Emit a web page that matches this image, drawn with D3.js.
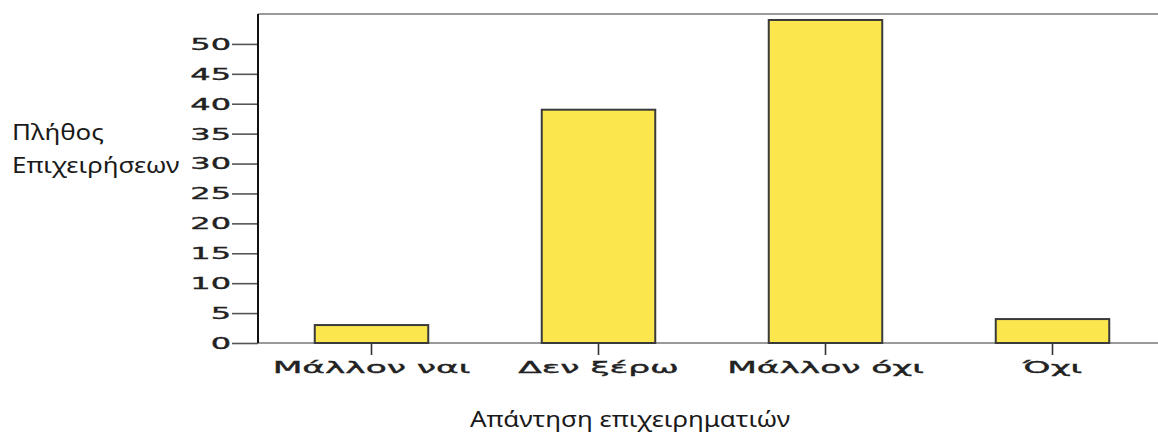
<!DOCTYPE html>
<html>
<head>
<meta charset="utf-8">
<script src="https://cdn.jsdelivr.net/npm/d3@7"></script>
<style>
  html, body { margin: 0; padding: 0; background: #fff; }
  svg { display: block; }
</style>
</head>
<body>
<svg id="chart" width="1158" height="435"></svg>
<script>
// Responses of business owners (count per answer)
const categories = ["Μάλλον ναι", "Δεν ξέρω", "Μάλλον όχι", "Όχι"];
const counts = [3, 39, 54, 4];
const yTicks = [0, 5, 10, 15, 20, 25, 30, 35, 40, 45, 50];
const yTitle = ["Πλήθος", "Επιχειρήσεων"];
const xTitle = "Απάντηση επιχειρηματιών";

const svg = d3.select("#chart");
const plot = { left: 258, right: 1166, top: 14, bottom: 343 };

const x = d3.scaleBand()
  .domain(categories)
  .range([plot.left, plot.right])
  .paddingInner(0.5)
  .paddingOuter(0.25);

const y = d3.scaleLinear()
  .domain([0, 55])
  .range([plot.bottom, plot.top]);

// Frame: top edge
svg.append("line")
  .attr("x1", plot.left).attr("x2", 1158)
  .attr("y1", plot.top).attr("y2", plot.top)
  .attr("stroke", "#9a9a9a").attr("stroke-width", 2);

// Zero baseline
svg.append("line")
  .attr("x1", plot.left).attr("x2", 1158)
  .attr("y1", y(0)).attr("y2", y(0))
  .attr("stroke", "#9a9a9a").attr("stroke-width", 2);

// Bars
svg.append("g").selectAll("rect")
  .data(categories.map((c, i) => ({ c, v: counts[i] })))
  .join("rect")
  .attr("x", d => x(d.c))
  .attr("y", d => y(d.v))
  .attr("width", x.bandwidth())
  .attr("height", d => y(0) - y(d.v))
  .attr("fill", "#fbe64d")
  .attr("stroke", "#3a3a3a")
  .attr("stroke-width", 2);

// Y axis
const yAxis = svg.append("g")
  .attr("transform", `translate(${plot.left},0)`)
  .call(d3.axisLeft(y).tickValues(yTicks).tickSize(26).tickPadding(0).tickSizeOuter(0));
yAxis.select(".domain").remove();
yAxis.selectAll(".tick line").attr("stroke", "#555").attr("stroke-width", 1.6);
yAxis.selectAll(".tick text")
  .attr("font-family", "DejaVu Sans")
  .attr("font-size", 16)
  .attr("fill", "#222")
  .attr("stroke", "#222")
  .attr("stroke-width", 0.35)
  .attr("x", null)
  .attr("dy", null)
  .attr("dominant-baseline", "central")
  .attr("text-anchor", "end")
  .attr("transform", "translate(-27,0) scale(2.0,1)");

svg.append("line")
  .attr("x1", plot.left).attr("x2", plot.left)
  .attr("y1", plot.top).attr("y2", y(0))
  .attr("stroke", "#111").attr("stroke-width", 2);

// X axis: category ticks and labels
const xAxis = svg.append("g")
  .attr("transform", `translate(0,${y(0)})`)
  .call(d3.axisBottom(x).tickSize(12).tickPadding(0).tickSizeOuter(0));
xAxis.select(".domain").remove();
xAxis.selectAll(".tick line").attr("stroke", "#333").attr("stroke-width", 1.6);
xAxis.selectAll(".tick text")
  .attr("font-family", "DejaVu Sans")
  .attr("font-size", 16)
  .attr("fill", "#222")
  .attr("stroke", "#222")
  .attr("stroke-width", 0.35)
  .attr("y", null)
  .attr("dy", null)
  .attr("transform", "translate(0,30) scale(2.15,1)");

// Axis titles
const yT = svg.append("text")
  .attr("font-family", "Noto Sans")
  .attr("font-size", 22)
  .attr("fill", "#1a1a1a")
  .attr("transform", "translate(12,0) scale(1.18,1)");
yT.selectAll("tspan").data(yTitle).join("tspan")
  .attr("x", 0)
  .attr("y", (d, i) => 140 + i * 33)
  .text(d => d);

svg.append("text")
  .attr("transform", "translate(630,427) scale(1.18,1)")
  .attr("text-anchor", "middle")
  .attr("font-family", "Noto Sans")
  .attr("font-size", 22)
  .attr("fill", "#1a1a1a")
  .text(xTitle);
</script>
</body>
</html>
